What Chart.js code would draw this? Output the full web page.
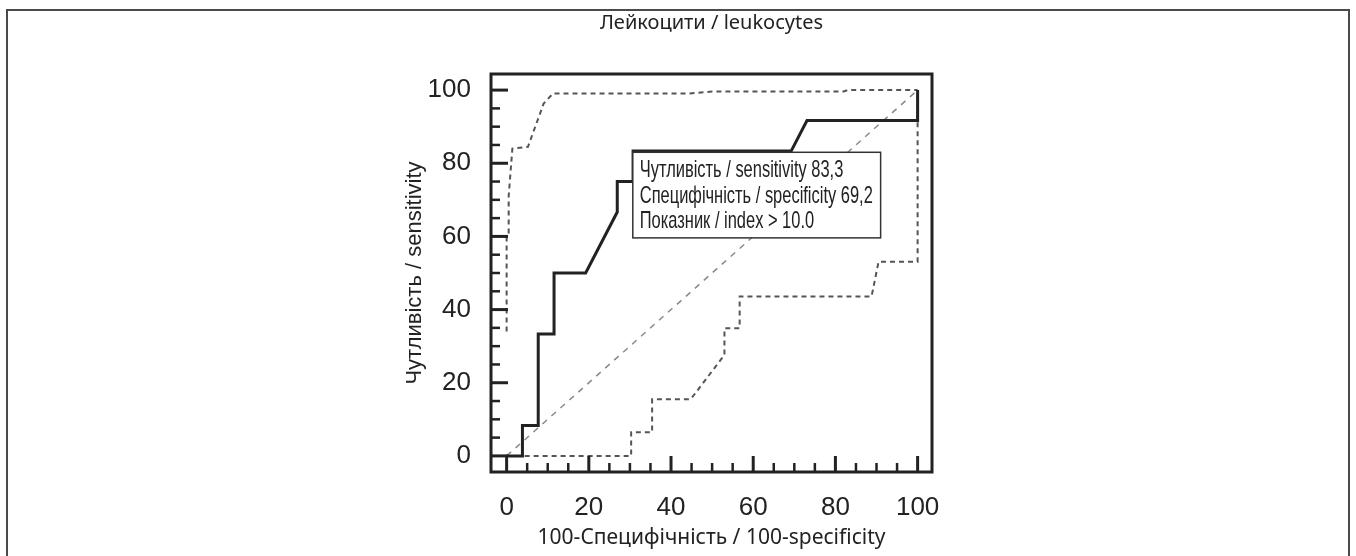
<!DOCTYPE html>
<html>
<head>
<meta charset="utf-8">
<title>ROC - leukocytes</title>
<script src="https://cdn.jsdelivr.net/npm/chart.js@4.4.1/dist/chart.umd.min.js"></script>
<style>
  html, body { margin:0; padding:0; background:#fff; }
  #wrap { position:relative; width:1356px; height:556px; overflow:hidden; }
  #frame { position:absolute; left:6px; top:9px; width:1340px; height:560px; border:2px solid #4a4a4a; border-bottom:none; }
  canvas { position:absolute; left:0; top:0; }
</style>
</head>
<body>
<div id="wrap">
  <div id="frame"></div>
  <canvas id="roc" width="1356" height="556"></canvas>
</div>
<script>
// ROC curve for leukocytes (in %)
const rocX = [0, 3.85, 3.85, 7.69, 7.69, 11.54, 11.54, 19.23, 26.92, 26.92, 30.77, 30.77, 69.23, 73.08, 100, 100];
const rocY = [0, 0, 8.33, 8.33, 33.33, 33.33, 50, 50, 66.67, 75, 75, 83.33, 83.33, 91.67, 91.67, 100];

// 95% confidence bounds
const upperX = [0, 0, 0.5, 0.5, 1.4, 5.2, 9.0, 11.3, 44.5, 50, 82, 83, 100];
const upperY = [34, 60, 60.5, 71, 84, 84.5, 96.3, 99.1, 99.1, 99.6, 99.6, 100, 100];
const lowerX = [0, 30.3, 30.3, 35.4, 35.4, 44.8, 53, 53, 56.7, 56.7, 88.8, 90.5, 100, 100];
const lowerY = [0, 0, 6.5, 6.5, 15.5, 15.5, 27.6, 34.9, 34.9, 43.6, 43.6, 53.1, 53.1, 100];

// reference diagonal
const diagX = [0, 100];
const diagY = [0, 100];

const xTicks = [0, 20, 40, 60, 80, 100];
const yTicks = [0, 20, 40, 60, 80, 100];
const minorStep = 5;

const annoLines = [
  'Чутливість / sensitivity 83,3',
  'Специфічність / specificity 69,2',
  'Показник / index > 10.0'
];

const toPts = (xs, ys) => xs.map((x, i) => ({x, y: ys[i]}));

// frame, inward ticks and the criterion box
const rocFrame = {
  id: 'rocFrame',
  afterDatasetsDraw(chart){
    const {ctx, chartArea:a, scales:{x, y}} = chart;
    ctx.save();
    ctx.strokeStyle = '#222';
    ctx.lineCap = 'butt';
    for(let v = 0; v <= 100; v += minorStep){
      const major = v % 20 === 0;
      ctx.lineWidth = major ? 3 : 2.5;
      const py = y.getPixelForValue(v);
      ctx.beginPath(); ctx.moveTo(a.left, py); ctx.lineTo(a.left + (major ? 17 : 9), py); ctx.stroke();
      const px = x.getPixelForValue(v);
      ctx.beginPath(); ctx.moveTo(px, a.bottom); ctx.lineTo(px, a.bottom - (major ? 16 : 9)); ctx.stroke();
    }
    ctx.lineWidth = 3;
    ctx.strokeRect(a.left, a.top, a.right - a.left, a.bottom - a.top);

    // criterion box
    const bx0 = x.getPixelForValue(30.7), bx1 = x.getPixelForValue(91);
    const by0 = y.getPixelForValue(83), by1 = y.getPixelForValue(59.6);
    ctx.fillStyle = '#fff';
    ctx.fillRect(bx0, by0, bx1 - bx0, by1 - by0);
    ctx.lineWidth = 1.5;
    ctx.strokeStyle = '#333';
    ctx.strokeRect(bx0, by0, bx1 - bx0, by1 - by0);
    ctx.font = '24px "Liberation Sans Narrow", "Liberation Sans", sans-serif';
    ctx.fillStyle = '#222';
    ctx.textBaseline = 'alphabetic';
    const k = 233 / ctx.measureText(annoLines[1]).width;
    annoLines.forEach((t, i) => {
      ctx.save();
      ctx.translate(bx0 + 7, by0 + 25 + i * 25.5);
      ctx.scale(k, 1);
      ctx.fillText(t, 0, 0);
      ctx.restore();
    });
    ctx.restore();
  }
};

const tickFont = {family:'"Liberation Sans", Arial, sans-serif', size:26};

new Chart(document.getElementById('roc'), {
  type:'line',
  data:{
    datasets:[
      {data: toPts(rocX, rocY), borderColor:'#222', borderWidth:3},
      {data: toPts(diagX, diagY), borderColor:'#888', borderWidth:1.5, borderDash:[6,6]},
      {data: toPts(upperX, upperY), borderColor:'#555', borderWidth:2, borderDash:[5,4]},
      {data: toPts(lowerX, lowerY), borderColor:'#555', borderWidth:2, borderDash:[5,4]}
    ]
  },
  options:{
    responsive:false,
    animation:false,
    devicePixelRatio:1,
    elements:{point:{radius:0}, line:{tension:0, fill:false, borderJoinStyle:'miter'}},
    layout:{padding:{left:391, right:424, top:0, bottom:0}},
    plugins:{
      legend:{display:false},
      tooltip:{enabled:false},
      title:{
        display:true,
        fullSize:false,
        text:'Лейкоцити / leukocytes',
        color:'#222',
        font:{family:'"Noto Sans", sans-serif', size:20, weight:'normal', lineHeight:1.2},
        padding:{top:11, bottom:39}
      }
    },
    scales:{
      x:{
        type:'linear', min:-3.8, max:103.5,
        grid:{display:false}, border:{display:false},
        afterBuildTicks(s){ s.ticks = xTicks.map(v => ({value:v})); },
        afterFit(s){ s.height = 84; },
        ticks:{font:tickFont, color:'#222', padding:12, maxRotation:0},
        title:{display:true, text:'100-Специфічність / 100-specificity', color:'#222',
          font:{family:'"Noto Sans", sans-serif', size:21, lineHeight:1.2}, padding:{top:0, bottom:5.4}}
      },
      y:{
        type:'linear', min:-4.4, max:104.4,
        grid:{display:false}, border:{display:false},
        afterBuildTicks(s){ s.ticks = yTicks.map(v => ({value:v})); },
        afterFit(s){ s.width = 100; },
        ticks:{font:tickFont, color:'#222', padding:12},
        title:{display:true, text:'Чутливість / sensitivity', color:'#222',
          font:{family:'"Liberation Sans", Arial, sans-serif', size:22, lineHeight:1.2}, padding:{top:10.8, bottom:0}}
      }
    }
  },
  plugins:[rocFrame]
});
</script>
</body>
</html>
